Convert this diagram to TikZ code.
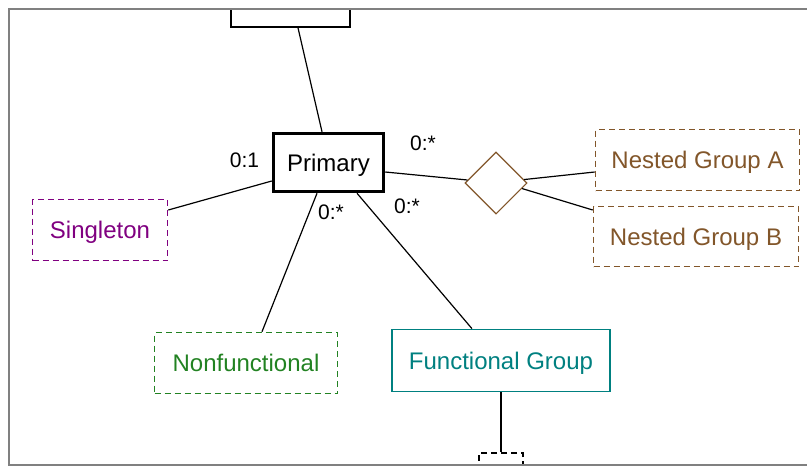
\documentclass[tikz,border=0pt]{standalone}
\usepackage{fontspec}
\setmainfont{Liberation Sans}
\usetikzlibrary{shapes.geometric,calc}
\definecolor{optpurple}{RGB}{128,0,128}
\definecolor{optgreen}{RGB}{34,130,34}
\definecolor{fgteal}{RGB}{0,128,128}
\definecolor{nestbrown}{RGB}{130,86,42}
\definecolor{framegray}{RGB}{128,128,128}

\begin{document}
\begin{tikzpicture}[x=1pt,y=-1pt,line width=1.2pt,
    ent/.style={draw,rectangle,line width=1.6pt,inner sep=0pt,text height=17pt,text depth=0pt,font=\fontsize{24}{28}\selectfont},
    opt/.style={ent,dash pattern=on 6pt off 4pt},
    card/.style={inner sep=0pt,font=\fontsize{21}{25}\selectfont}]
    \useasboundingbox (0,0) rectangle (807,466);
    \begin{scope}
      \clip (9,9) rectangle (807,465);
      \node[ent,minimum width=119pt,minimum height=40pt] (top) at (290.5,7) {};
      \node[opt,minimum width=44pt,minimum height=40pt] (bot) at (501,473) {};
    \end{scope}
    \draw[framegray,line width=1.6pt] (808,9) -- (9,9) -- (9,465) -- (808,465);
    \node[ent,line width=3.5pt,minimum width=110pt,minimum height=58pt] (prim) at (328.5,162.5) {Primary};
    \node[opt,draw=optpurple,text=optpurple,minimum width=135pt,minimum height=61pt] (sing) at (100,230) {Singleton};
    \node[opt,draw=optgreen,text=optgreen,minimum width=183pt,minimum height=61pt] (nonf) at (246,363) {Nonfunctional};
    \node[ent,draw=fgteal,text=fgteal,minimum width=218pt,minimum height=62pt] (func) at (501,360.5) {Functional Group};
    \node[draw=nestbrown,diamond,line width=1.1pt,inner sep=0pt,minimum width=62pt,minimum height=62pt] (rel) at (496,183) {};
    \node[opt,draw=nestbrown,text=nestbrown,minimum width=204pt,minimum height=61pt] (nga) at (697.5,160) {Nested Group A};
    \node[opt,draw=nestbrown,text=nestbrown,minimum width=205pt,minimum height=60pt] (ngb) at (696,236.5) {Nested Group B};
    \draw ($(top.south)+(7.5,0)$) -- ($(prim.north)+(-6.5,0)$);
    \draw ($(sing.east)+(0,-20)$) -- ($(prim.west)+(0,18.5)$);
    \draw ($(prim.south)+(-11.5,0)$) -- ($(nonf.north)+(16,0)$);
    \draw ($(prim.south)+(28.5,0)$) -- ($(func.north)+(-29,0)$);
    \draw ($(prim.east)+(0,9.5)$) -- (rel.174);
    \draw (rel.7) -- ($(nga.west)+(0,12)$);
    \draw (rel.-12) -- ($(ngb.west)+(0,-26.5)$);
    \draw (func.south) -- (bot.north);
    \node[card] (c1) at (244.5,160) {0:1};
    \node[card] (c2) at (423,143) {0:*};
    \node[card] (c3) at (331,212) {0:*};
    \node[card] (c4) at (407,206) {0:*};
  \end{tikzpicture}
\end{document}
